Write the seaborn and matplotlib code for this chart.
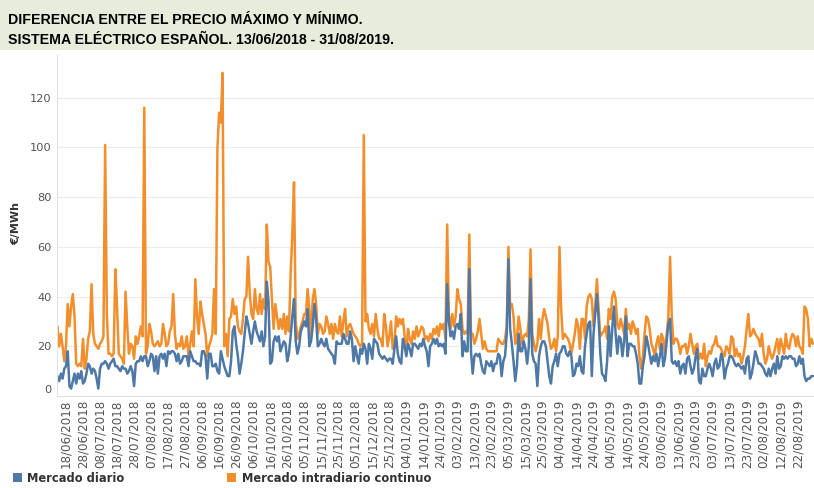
import matplotlib
matplotlib.use('Agg')
import matplotlib.pyplot as plt
import matplotlib.dates as mdates
import matplotlib.transforms as mtransforms
from matplotlib.patches import Rectangle
import pandas as pd
import seaborn as sns

# periodo (un valor por dia)
fecha_inicio = '2018-06-13'
fecha_fin = '2019-08-31'
primer_tick = '2018-06-18'

# diferencia precio max - min, €/MWh
mercado_intradiario = [
    28, 20, 25, 20, 14, 20, 37, 28, 36, 41,
    32, 13, 12, 13, 12, 23, 11, 15, 23, 26,
    45, 25, 21, 20, 19, 21, 22, 24, 101, 33,
    17, 17, 16, 17, 51, 36, 17, 16, 15, 13,
    42, 28, 17, 21, 20, 15, 24, 21, 24, 28,
    24, 116, 17, 20, 29, 26, 21, 20, 21, 22,
    20, 21, 29, 25, 20, 21, 26, 28, 41, 25,
    19, 21, 20, 24, 19,
    20, 24, 16, 21, 26, 20, 47, 32, 25, 38,
    33, 29, 25, 16, 20, 22, 25, 43, 25, 100,
    114, 110, 130, 20, 25, 16, 31, 32, 39, 33,
    36, 28, 26, 25, 31, 39, 40, 56, 41, 33,
    31, 43, 35, 33, 41, 33, 39, 35, 69, 54,
    52, 39, 27, 37, 32, 27, 31, 27, 33, 25,
    32, 26, 49, 65, 86, 30, 23, 25, 28, 30,
    33, 33, 43, 35,
    24, 39, 43, 37, 25, 29, 28, 25, 26, 32,
    29, 25, 29, 23, 29, 26, 25, 32, 24, 30,
    35, 24, 28, 29, 27, 25, 24, 23, 21, 20,
    21, 105, 30, 33, 27, 25, 29, 24, 33, 27,
    23, 23, 20, 33, 28, 20, 24, 30, 19, 21,
    32, 28, 31, 29, 31, 24, 17, 27, 23, 21,
    26, 23, 28, 24, 26, 28, 27, 23, 24, 22,
    25, 23, 27,
    25, 28, 24, 29, 27, 29, 23, 69, 33, 27,
    33, 28, 32, 43, 39, 37, 27, 25, 26, 25,
    65, 25, 25, 21, 23, 26, 31, 25, 19, 22,
    19, 18, 18, 18, 18, 18, 18, 23, 22, 21,
    21, 23, 28, 60, 36, 37, 32, 21, 23, 32,
    27, 21, 24, 25, 24, 31, 59, 25, 21, 18,
    21, 31, 23, 31, 35, 32, 29, 23, 19, 20,
    23, 18, 24,
    60, 35, 23, 25, 24, 23, 21, 17, 21, 25,
    31, 28, 19, 31, 31, 23, 36, 40, 41, 39,
    28, 36, 47, 35, 24, 25, 26, 28, 23, 35,
    31, 40, 42, 39, 29, 27, 31, 28, 25, 35,
    27, 29, 25, 30, 28, 25, 27, 16, 11, 16,
    25, 32, 31, 27, 21, 19, 16, 21, 24, 19,
    25, 23, 17, 25, 32, 56, 32, 21, 23, 23,
    21, 17, 20, 20,
    21, 17, 20, 25, 21, 17, 20, 21, 15, 17,
    15, 21, 12, 16, 18, 17, 20, 21, 24, 20,
    20, 19, 17, 16, 20, 19, 17, 24, 23, 16,
    19, 16, 17, 13, 16, 20, 27, 33, 24, 25,
    27, 25, 24, 23, 20, 25, 17, 13, 15, 20,
    17, 15, 17, 20, 23, 17, 23, 20, 17, 25,
    20, 19, 23, 25, 24, 20, 24, 20, 19, 17,
    36, 35, 31, 20, 23, 21,
]

mercado_diario = [
    8, 6, 9, 7, 11, 12, 18, 4, 3, 6,
    9, 5, 9, 7, 10, 5, 6, 9, 13, 12,
    9, 11, 10, 7, 3, 11, 13, 13, 14, 13,
    11, 13, 14, 15, 12, 12, 11, 10, 12, 11,
    11, 9, 10, 12, 10, 4, 13, 14, 14, 16,
    14, 16, 16, 12, 14, 17, 16, 10, 16, 9,
    16, 17, 15, 17, 12, 18, 17, 18, 18, 17,
    14, 17, 13, 14, 16,
    16, 16, 12, 18, 16, 14, 14, 13, 13, 12,
    18, 18, 16, 7, 17, 17, 12, 12, 13, 10,
    9, 18, 15, 12, 10, 8, 8, 14, 26, 28,
    21, 16, 9, 13, 18, 25, 32, 29, 25, 21,
    26, 30, 26, 24, 22, 26, 20, 24, 46, 38,
    13, 14, 22, 24, 22, 24, 18, 20, 22, 21,
    14, 17, 24, 32, 39, 22, 17, 20, 26, 28,
    30, 28, 35, 20,
    22, 28, 37, 31, 20, 21, 23, 21, 20, 23,
    19, 18, 17, 16, 13, 22, 21, 21, 21, 25,
    23, 21, 21, 26, 23, 14, 20, 16, 13, 19,
    17, 21, 19, 13, 21, 19, 15, 23, 22, 21,
    17, 16, 15, 16, 15, 14, 15, 15, 13, 19,
    24, 17, 14, 13, 23, 20, 16, 21, 19, 16,
    21, 21, 20, 19, 21, 20, 23, 20, 18, 12,
    20, 21, 23,
    21, 23, 20, 21, 20, 21, 17, 45, 30, 24,
    26, 23, 28, 29, 27, 33, 16, 22, 18, 18,
    51, 18, 9, 16, 17, 16, 17, 13, 10, 9,
    14, 13, 12, 14, 10, 13, 13, 17, 16, 8,
    14, 16, 25, 55, 27, 21, 14, 6, 12, 25,
    18, 18, 22, 19, 13, 20, 47, 17, 14, 13,
    4, 16, 20, 22, 22, 20, 14, 8, 5, 12,
    14, 17, 12,
    17, 18, 20, 20, 17, 16, 18, 16, 8, 9,
    13, 12, 16, 10, 9, 20, 25, 29, 30, 8,
    25, 33, 41, 31, 17, 9, 8, 6, 14, 28,
    16, 27, 36, 25, 17, 24, 23, 16, 22, 32,
    16, 21, 21, 20, 20, 17, 13, 5, 5, 12,
    16, 24, 21, 17, 13, 16, 14, 17, 12, 16,
    21, 12, 15, 22, 29, 31, 14, 13, 14, 12,
    14, 9, 12, 13,
    9, 15, 16, 12, 9, 11, 16, 19, 6, 5,
    11, 8, 8, 11, 13, 11, 8, 13, 15, 11,
    12, 17, 15, 7, 11, 13, 16, 16, 15, 13,
    12, 13, 12, 11, 12, 9, 15, 16, 7, 9,
    13, 18, 16, 13, 13, 12, 11, 9, 8, 11,
    8, 11, 13, 9, 16, 11, 12, 16, 15, 16,
    15, 16, 16, 15, 15, 12, 13, 16, 13, 15,
    8, 6, 7, 7, 8, 8,
]

series = ['Mercado diario', 'Mercado intradiario continuo']
colores = {'Mercado diario': '#4e79a7', 'Mercado intradiario continuo': '#f28e2b'}
yticks = [0, 20, 40, 60, 80, 100, 120]
titulo_1 = 'DIFERENCIA ENTRE EL PRECIO MÁXIMO Y MÍNIMO.'
titulo_2 = 'SISTEMA ELÉCTRICO ESPAÑOL. 13/06/2018 - 31/08/2019.'

fechas = pd.date_range(fecha_inicio, fecha_fin, freq='D')
df = pd.DataFrame({
    'fecha': list(fechas) * 2,
    'valor': mercado_diario + mercado_intradiario,
    'serie': [series[0]] * len(fechas) + [series[1]] * len(fechas),
})

sns.set_style('white')
plt.rcParams['font.family'] = ['DejaVu Sans']

W, H = 814, 488
fig = plt.figure(figsize=(W / 100, H / 100), dpi=100)

# banda del titulo
fig.add_artist(Rectangle((0, 1 - 50 / H), 1, 50 / H, transform=fig.transFigure,
                         facecolor='#e8ecdb', edgecolor='none', zorder=0))
fig.text(8 / W, 1 - 24 / H, titulo_1, fontsize=10.2, fontweight='bold',
         family='Liberation Sans', color='black', va='baseline')
fig.text(8 / W, 1 - 44.5 / H, titulo_2, fontsize=10.2, fontweight='bold',
         family='Liberation Sans', color='black', va='baseline')

ax = fig.add_axes([57 / W, 92 / H, 757 / W, 341 / H])

# naranja debajo, azul encima
sns.lineplot(data=df, x='fecha', y='valor', hue='serie', hue_order=[series[1], series[0]],
             palette=colores, linewidth=1.8, legend=False, ax=ax)

ax.set_xlim(fechas[0] - pd.Timedelta(hours=7), fechas[-1] + pd.Timedelta(hours=14))
ax.set_ylim(0, 137.2)
ax.set_xticks(pd.date_range(primer_tick, fecha_fin, freq='10D'))
ax.xaxis.set_major_formatter(mdates.DateFormatter('%d/%m/%Y'))
ax.set_yticks(yticks)
ax.tick_params(axis='x', length=0, pad=2.5, labelsize=8.6, labelcolor='#555555', labelrotation=90)
ax.tick_params(axis='y', length=0, pad=4, labelsize=8.2, labelcolor='#555555')

ax.set_xlabel('')
ax.set_ylabel('€/MWh', fontsize=8, fontweight='bold', color='#333333')
ax.yaxis.set_label_coords(-0.0476, 0.507)

ax.grid(axis='y', color='#ececec', linewidth=0.8)
ax.grid(axis='x', visible=False)
ax.set_axisbelow(True)
for lado in ['top', 'right']:
    ax.spines[lado].set_visible(False)
for lado in ['left', 'bottom']:
    ax.spines[lado].set_color('#e3e3e3')
    ax.spines[lado].set_linewidth(0.8)

# la etiqueta "0" aparece algo levantada
tick0 = ax.yaxis.get_major_ticks()[0].label1
tick0.set_transform(tick0.get_transform() +
                    mtransforms.ScaledTranslation(0, 7 / 100, fig.dpi_scale_trans))

# leyenda inferior
leyenda_x = [(13.5, 27), (227, 242)]
for (xc, xt), nombre in zip(leyenda_x, series):
    fig.add_artist(Rectangle((xc / W, 1 - 481.5 / H), 8.5 / W, 8.5 / H,
                             transform=fig.transFigure, facecolor=colores[nombre],
                             edgecolor='none'))
    fig.text(xt / W, 1 - 482 / H, nombre, fontsize=8.3, fontweight='bold',
             color='#333333', va='baseline')

plt.savefig('out.png', dpi=100)
